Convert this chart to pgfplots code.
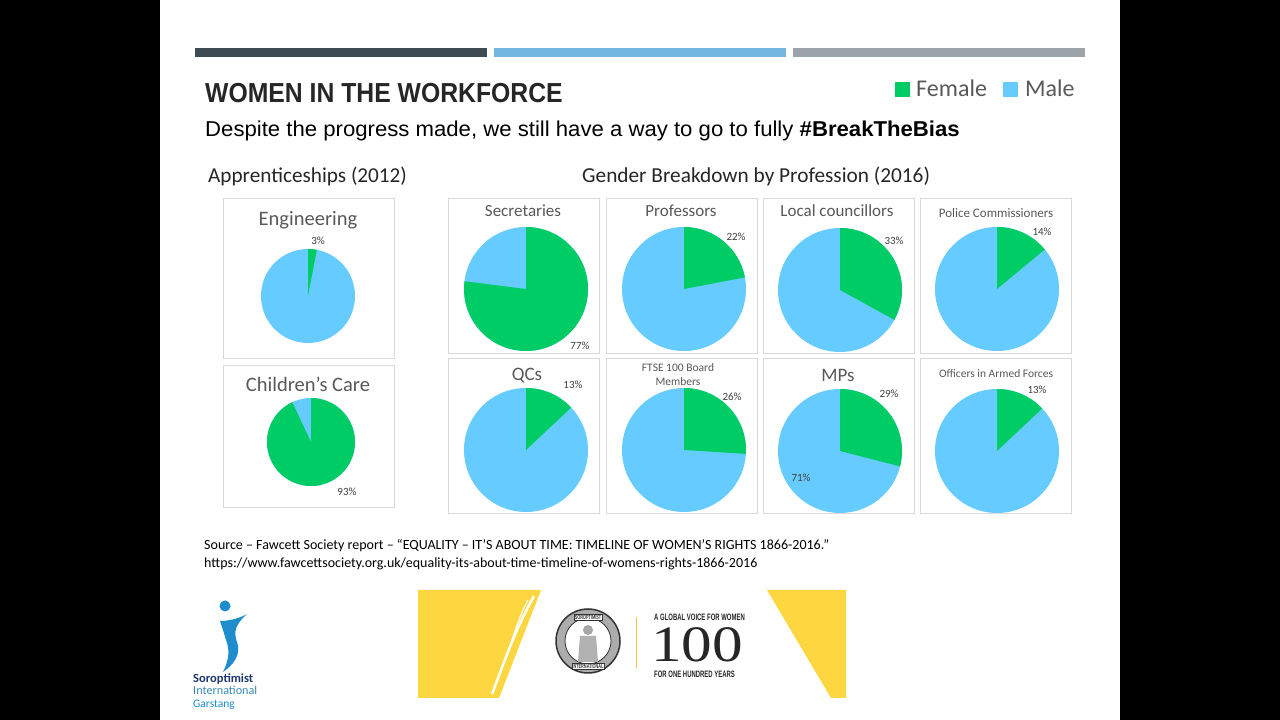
\documentclass[border=0pt]{standalone}
\usepackage{fontspec}
\usepackage{pgfplots}
\usepackage{pgfplotstable}
\pgfplotsset{compat=1.18}
\setmainfont{Carlito}
\newfontfamily\titlefont[FakeStretch=0.90]{Liberation Sans}
\newfontfamily\subfont[FakeStretch=1.03]{Liberation Sans}
\newfontfamily\smallcond[FakeStretch=0.64]{Liberation Sans}
\newfontfamily\hundred[FakeStretch=1.2]{Liberation Serif}
\newcommand\fs[1]{\fontsize{#1}{#1}\selectfont}
\definecolor{femalec}{RGB}{0,204,102}
\definecolor{malec}{RGB}{102,204,255}
\definecolor{bardark}{RGB}{63,75,82}
\definecolor{barblue}{RGB}{113,181,224}
\definecolor{bargrey}{RGB}{156,163,169}
\definecolor{boxc}{RGB}{217,217,217}
\definecolor{titlegrey}{RGB}{89,89,89}
\definecolor{labgrey}{RGB}{64,64,64}
\definecolor{yel}{RGB}{253,214,64}
\definecolor{sorblue}{RGB}{30,140,205}
\definecolor{sordark}{RGB}{31,56,110}

% female share (percent) of each pie; cx, cy, r = pie centre and radius (px), lx, ly = label position
\pgfplotstableread{
name        cx   cy   r   female  lx    ly
Engineering 308  296  47  3       318   241
Children    311  442  44  93      347   492
Secretaries 526  289  62  77      580   346
Professors  684  289  62  22      736   237
Councillors 840  290  62  33      894   241
Police      997  289  62  14      1042  232
QCs         526  450  62  13      573   385
FTSE        684  450  62  26      732   397
MPs         840  451  62  29      889   394
Officers    997  451  62  13      1037  390
}\pies

\begin{document}
\begin{tikzpicture}
\begin{axis}[hide axis, scale only axis, width=1280pt, height=720pt,
  xmin=0, xmax=1280, ymin=-720, ymax=0, clip=false]
% background
\fill[black] (0,-720) rectangle (1280,0);
\fill[white] (160,-720) rectangle (1120,0);
% top bars
\fill[bardark] (195,-57) rectangle (487,-48);
\fill[barblue] (494,-57) rectangle (786,-48);
\fill[bargrey] (793,-57) rectangle (1085,-48);
% titles
\node[anchor=base west, inner sep=0, text=black!85, font=\titlefont\bfseries\fs{27.5}] at (205,-102.5) {WOMEN IN THE WORKFORCE};
\node[anchor=base west, inner sep=0, text=black, font=\subfont\fs{21.5}] at (205,-137) {Despite the progress made, we still have a way to go to fully \textbf{\#BreakTheBias}};
% legend
\fill[femalec] (895,-97) rectangle (910,-82);
\node[anchor=base west, inner sep=0, text=titlegrey, font=\fs{24}] at (916,-97) {Female};
\fill[malec] (1003,-97) rectangle (1018,-82);
\node[anchor=base west, inner sep=0, text=titlegrey, font=\fs{24}] at (1025,-97) {Male};
% section headings
\node[anchor=base west, inner sep=0, text=black!85, font=\fs{21.2}] at (208,-183) {Apprenticeships (2012)};
\node[anchor=base west, inner sep=0, text=black!85, font=\fs{21.3}] at (582,-183) {Gender Breakdown by Profession (2016)};
% boxes
\draw[boxc, line width=1pt] (223,-199) rectangle (394,-359);
\draw[boxc, line width=1pt] (223,-366) rectangle (394,-508);
\draw[boxc, line width=1pt] (448,-199) rectangle (599,-354);
\draw[boxc, line width=1pt] (606,-199) rectangle (757,-354);
\draw[boxc, line width=1pt] (763,-199) rectangle (914,-354);
\draw[boxc, line width=1pt] (920,-199) rectangle (1071,-354);
\draw[boxc, line width=1pt] (448,-359) rectangle (599,-514);
\draw[boxc, line width=1pt] (606,-359) rectangle (757,-514);
\draw[boxc, line width=1pt] (763,-359) rectangle (914,-514);
\draw[boxc, line width=1pt] (920,-359) rectangle (1071,-514);
% box titles
\node[anchor=base, inner sep=0, text=titlegrey, font=\fs{20.5}] at (308,-226) {Engineering};
\node[anchor=base, inner sep=0, text=titlegrey, font=\fs{20.5}] at (308,-392) {Children’s Care};
\node[anchor=base, inner sep=0, text=titlegrey, font=\fs{17}] at (523,-217) {Secretaries};
\node[anchor=base, inner sep=0, text=titlegrey, font=\fs{17}] at (681,-217) {Professors};
\node[anchor=base, inner sep=0, text=titlegrey, font=\fs{17}] at (837,-217) {Local councillors};
\node[anchor=base, inner sep=0, text=titlegrey, font=\fs{13}] at (996,-218) {Police Commissioners};
\node[anchor=base, inner sep=0, text=titlegrey, font=\fs{19}] at (527,-381) {QCs};
\node[anchor=base, inner sep=0, text=titlegrey, font=\fs{11.5}] at (678,-372) {FTSE 100 Board};
\node[anchor=base, inner sep=0, text=titlegrey, font=\fs{11.5}] at (678,-386) {Members};
\node[anchor=base, inner sep=0, text=titlegrey, font=\fs{19}] at (838,-382) {MPs};
\node[anchor=base, inner sep=0, text=titlegrey, font=\fs{11.5}] at (996,-378) {Officers in Armed Forces};
% pies from the table
\pgfplotsextra{%
  \pgfplotstablegetrowsof{\pies}%
  \pgfmathtruncatemacro{\lastrow}{\pgfplotsretval-1}%
  \foreach \i in {0,...,\lastrow}{%
    \pgfplotstablegetelem{\i}{cx}\of\pies \let\cx\pgfplotsretval
    \pgfplotstablegetelem{\i}{cy}\of\pies \let\cy\pgfplotsretval
    \pgfplotstablegetelem{\i}{r}\of\pies \let\rr\pgfplotsretval
    \pgfplotstablegetelem{\i}{female}\of\pies \let\fem\pgfplotsretval
    \pgfplotstablegetelem{\i}{lx}\of\pies \let\lx\pgfplotsretval
    \pgfplotstablegetelem{\i}{ly}\of\pies \let\ly\pgfplotsretval
    \pgfmathsetmacro{\endang}{90-3.6*\fem}%
    \pgfmathsetmacro{\topy}{-\cy+\rr}%
    \fill[malec] (axis cs:\cx,-\cy) circle[radius=\rr pt];
    \fill[femalec] (axis cs:\cx,-\cy) -- (axis cs:\cx,\topy) arc[start angle=90, end angle=\endang, radius=\rr pt] -- cycle;
    \node[inner sep=0, text=labgrey, font=\fs{11}] at (axis cs:\lx,-\ly) {\fem\%};
  }%
}
\node[inner sep=0, text=labgrey, font=\fs{11}] at (801,-478) {71\%};
% source
\node[anchor=base west, inner sep=0, text=black, font=\fs{14}] at (204,-550) {Source – Fawcett Society report – “EQUALITY – IT’S ABOUT TIME: TIMELINE OF WOMEN’S RIGHTS 1866-2016.”};
\node[anchor=base west, inner sep=0, text=black, font=\fs{14}] at (204,-568) {https://www.fawcettsociety.org.uk/equality-its-about-time-timeline-of-womens-rights-1866-2016};
% Soroptimist logo
\fill[sorblue] (225,-606) circle[radius=5.5pt];
\fill[sorblue] (220,-621) .. controls (230,-621) and (240,-618) .. (247,-614)
  .. controls (236,-624) and (233,-631) .. (237,-642)
  .. controls (242,-655) and (232,-666) .. (223,-672)
  .. controls (229,-660) and (230,-650) .. (226,-640)
  .. controls (224,-633) and (222,-627) .. (220,-621) -- cycle;
\node[anchor=base west, inner sep=0, text=sordark, font=\bfseries\fs{12.5}] at (193,-683) {Soroptimist};
\node[anchor=base west, inner sep=0, text=sorblue!70!gray, font=\fs{12.2}] at (193,-695) {International};
\node[anchor=base west, inner sep=0, text=sorblue, font=\fs{11.5}] at (193,-708) {Garstang};
% centenary banner
\fill[yel] (418,-590) -- (541,-590) -- (499,-698) -- (418,-698) -- cycle;
\draw[white, line width=2.5pt] (534,-596) .. controls (515,-630) and (505,-660) .. (492,-694);
\draw[white, line width=1.2pt] (528,-600) .. controls (520,-615) and (516,-628) .. (512,-640);
\fill[yel] (767,-590) -- (846,-590) -- (846,-698) -- (831,-698) -- cycle;
\draw[white, line width=1.5pt] (776,-632) .. controls (790,-655) and (805,-675) .. (823,-694);
\fill[gray!65] (588,-641) circle[radius=32pt];
\draw[black!80, line width=1.5pt] (588,-641) circle[radius=32pt];
\fill[white] (588,-641) circle[radius=23pt];
\draw[black!80, line width=0.8pt] (588,-641) circle[radius=23pt];
\fill[gray!70] (588,-630) circle[radius=5pt];
\fill[gray!60] (578,-662) -- (580,-636) -- (596,-636) -- (598,-662) -- cycle;
\node[fill=white, draw=black!80, inner sep=0.6pt, text=black!80, font=\smallcond\bfseries\fs{6}] at (588,-617) {SOROPTIMIST};
\node[fill=white, draw=black!80, inner sep=0.6pt, text=black!80, font=\smallcond\bfseries\fs{6}] at (588,-666) {INTERNATIONAL};
\draw[yel!80!brown, line width=1pt] (636,-617) -- (636,-668);
\node[anchor=base west, inner sep=0, text=black!85, font=\smallcond\bfseries\fs{9.3}] at (654,-621) {A GLOBAL VOICE FOR WOMEN};
\node[anchor=base west, inner sep=0, text=black!85, font=\hundred\fs{51}] at (651,-662) {100};
\node[anchor=base west, inner sep=0, text=black!85, font=\smallcond\bfseries\fs{9.3}] at (654,-678) {FOR ONE HUNDRED YEARS};
\end{axis}
\end{tikzpicture}
\end{document}
